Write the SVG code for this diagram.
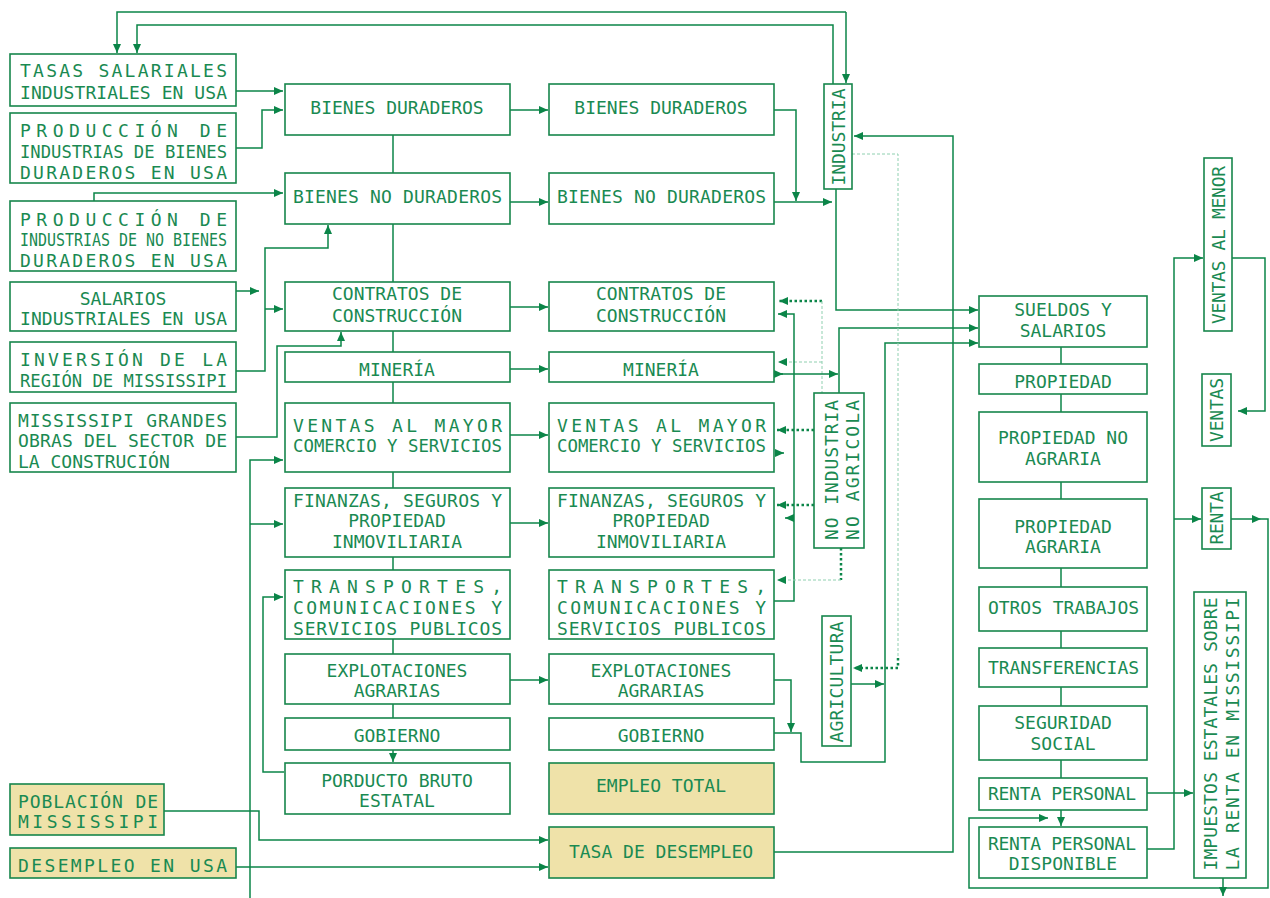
<svg xmlns="http://www.w3.org/2000/svg" width="1270" height="898" viewBox="0 0 1270 898">
<defs>
<style>
.b{fill:#fff;stroke:#17864c;stroke-width:1.6}
.y{fill:#efe2a9;stroke:#17864c;stroke-width:1.6}
text{font-family:"DejaVu Sans Mono","Liberation Mono",monospace;font-size:18px;fill:#1a8a52}
.c{text-anchor:middle}
.m{text-anchor:middle}
.ln{fill:none;stroke:#0b8548;stroke-width:1.5}
.dt{fill:none;stroke:#0b8548;stroke-width:2.5;stroke-dasharray:2.5,2.5}
.ds{fill:none;stroke:#8fd0b0;stroke-width:1;stroke-dasharray:3,2}
</style>
<marker id="a" markerUnits="userSpaceOnUse" markerWidth="10" markerHeight="8" refX="9" refY="4" orient="auto"><path d="M0,0 L9,4 L0,8 z" fill="#0b8548"/></marker>
</defs>
<rect width="1270" height="898" fill="#fff"/>
<g id="connectors">
<path class="ln" d="M833,84 V25 H137 V53" marker-end="url(#a)"/>
<path class="ln" d="M846,12 H117 V53" marker-end="url(#a)"/>
<path class="ln" d="M846,12 V83" marker-end="url(#a)"/>
<path class="ln" d="M236,91 H283" marker-end="url(#a)"/>
<path class="ln" d="M236,148 H262 V110 H283" marker-end="url(#a)"/>
<path class="ln" d="M94,201 V193 H283" marker-end="url(#a)"/>
<path class="ln" d="M236,291 H259" marker-end="url(#a)"/>
<path class="ln" d="M236,371 H265 V248 H328 V225" marker-end="url(#a)"/>
<path class="ln" d="M265,309 H283" marker-end="url(#a)"/>
<path class="ln" d="M236,437 H277 V346 H341 V332" marker-end="url(#a)"/>
<path class="ln" d="M250,898 V460 H283" marker-end="url(#a)"/>
<path class="ln" d="M250,524 H283" marker-end="url(#a)"/>
<path class="ln" d="M284,772 H263 V597 H283" marker-end="url(#a)"/>
<path class="ln" d="M164,811 H259 V840 H548" marker-end="url(#a)"/>
<path class="ln" d="M236,867 H548" marker-end="url(#a)"/>
<path class="ln" d="M393,135 V762" marker-end="url(#a)"/>
<path class="ln" d="M510,110 H548" marker-end="url(#a)"/>
<path class="ln" d="M510,202 H548" marker-end="url(#a)"/>
<path class="ln" d="M510,307 H548" marker-end="url(#a)"/>
<path class="ln" d="M510,369 H548" marker-end="url(#a)"/>
<path class="ln" d="M510,435 H548" marker-end="url(#a)"/>
<path class="ln" d="M510,523 H548" marker-end="url(#a)"/>
<path class="ln" d="M510,680 H548" marker-end="url(#a)"/>
<path class="ln" d="M774,110 H796 V201" marker-end="url(#a)"/>
<path class="ln" d="M774,202 H832" marker-end="url(#a)"/>
<path class="ln" d="M836,189 V310 H978" marker-end="url(#a)"/>
<path class="ln" d="M839,393 V328 H978" marker-end="url(#a)"/>
<path class="ln" d="M774,733 H801 V762 H885 V343 H978" marker-end="url(#a)"/>
<path class="ln" d="M851,684 H884" marker-end="url(#a)"/>
<path class="ln" d="M774,680 H791 V732" marker-end="url(#a)"/>
<path class="ln" d="M774,852 H953 V136 H854" marker-end="url(#a)"/>
<path class="ds" d="M852,154 H898 V658"/>
<path class="dt" d="M898,658 V668 H853" marker-end="url(#a)"/>
<path class="dt" d="M822,301 H779" marker-end="url(#a)"/>
<path class="ds" d="M822,301 V393"/>
<path class="ds" d="M822,362 H778" marker-end="url(#a)"/>
<path class="ln" d="M774,374 H838" marker-end="url(#a)"/>
<path class="ln" d="M774,374 H783" marker-end="url(#a)"/>
<path class="ln" d="M774,601 H794 V314 H778" marker-end="url(#a)"/>
<path class="dt" d="M814,430 H777" marker-end="url(#a)"/>
<path class="ln" d="M775,453 H784" marker-end="url(#a)"/>
<path class="dt" d="M814,505 H777" marker-end="url(#a)"/>
<path class="ln" d="M794,518 H785" marker-end="url(#a)"/>
<path class="dt" d="M841,548 V580"/>
<path class="ds" d="M841,580 H777" marker-end="url(#a)"/>
<path class="ln" d="M1061,347 V826" marker-end="url(#a)"/>
<path class="ln" d="M1147,793 H1193" marker-end="url(#a)"/>
<path class="ln" d="M1147,849 H1174 V258 H1203" marker-end="url(#a)"/>
<path class="ln" d="M1174,519 H1201" marker-end="url(#a)"/>
<path class="ln" d="M1232,258 H1265 V411 H1238" marker-end="url(#a)"/>
<path class="ln" d="M1231,519 H1261" marker-end="url(#a)"/>
<path class="ln" d="M1261,519 H1268 V888 H969 V818 H1048" marker-end="url(#a)"/>
<path class="ln" d="M1223,878 V896" marker-end="url(#a)"/>
</g>
<g id="n-tasas"><rect class="b" x="10" y="54" width="226" height="52"/><text x="20" y="77" textLength="207">TASAS SALARIALES</text><text x="20" y="99" textLength="207">INDUSTRIALES EN USA</text></g>
<g id="n-prod-dur"><rect class="b" x="10" y="113" width="226" height="70"/><text x="20" y="137" textLength="207">PRODUCCIÓN DE</text><text x="20" y="158" textLength="207" lengthAdjust="spacingAndGlyphs">INDUSTRIAS DE BIENES</text><text x="20" y="179" textLength="207">DURADEROS EN USA</text></g>
<g id="n-prod-nodur"><rect class="b" x="10" y="201" width="226" height="70"/><text x="20" y="226" textLength="207">PRODUCCIÓN DE</text><text x="20" y="246" textLength="207" lengthAdjust="spacingAndGlyphs">INDUSTRIAS DE NO BIENES</text><text x="20" y="267" textLength="207">DURADEROS EN USA</text></g>
<g id="n-salarios"><rect class="b" x="10" y="282" width="226" height="49"/><text class="c" x="123" y="305">SALARIOS</text><text x="20" y="325" textLength="207">INDUSTRIALES EN USA</text></g>
<g id="n-inversion"><rect class="b" x="10" y="342" width="226" height="50"/><text x="20" y="366" textLength="207">INVERSIÓN DE LA</text><text x="20" y="387" textLength="207" lengthAdjust="spacingAndGlyphs">REGIÓN DE MISSISSIPI</text></g>
<g id="n-obras"><rect class="b" x="10" y="403" width="226" height="69"/><text x="18" y="427" textLength="209">MISSISSIPI GRANDES</text><text x="18" y="447" textLength="209">OBRAS DEL SECTOR DE</text><text x="18" y="468">LA CONSTRUCIÓN</text></g>
<g id="n-poblacion"><rect class="y" x="10" y="784" width="154" height="51"/><text x="18" y="808" textLength="140">POBLACIÓN DE</text><text x="18" y="828" textLength="140">MISSISSIPI</text></g>
<g id="n-desempleo-usa"><rect class="y" x="10" y="848" width="226" height="30"/><text x="18" y="872" textLength="209">DESEMPLEO EN USA</text></g>
<g id="n-a-bd"><rect class="b" x="285" y="84" width="225" height="51"/><text class="c" x="397" y="114">BIENES DURADEROS</text></g>
<g id="n-a-bnd"><rect class="b" x="285" y="173" width="225" height="51"/><text x="293" y="203" textLength="209">BIENES NO DURADEROS</text></g>
<g id="n-a-con"><rect class="b" x="285" y="282" width="225" height="49"/><text class="c" x="397" y="300">CONTRATOS DE</text><text class="c" x="397" y="322">CONSTRUCCIÓN</text></g>
<g id="n-a-min"><rect class="b" x="285" y="352" width="225" height="30"/><text class="c" x="397" y="376">MINERÍA</text></g>
<g id="n-a-ven"><rect class="b" x="285" y="403" width="225" height="69"/><text x="293" y="432" textLength="209">VENTAS AL MAYOR</text><text x="293" y="452" textLength="209" lengthAdjust="spacingAndGlyphs">COMERCIO Y SERVICIOS</text></g>
<g id="n-a-fin"><rect class="b" x="285" y="488" width="225" height="69"/><text x="293" y="507" textLength="209">FINANZAS, SEGUROS Y</text><text class="c" x="397" y="527">PROPIEDAD</text><text class="c" x="397" y="548">INMOVILIARIA</text></g>
<g id="n-a-tra"><rect class="b" x="285" y="570" width="225" height="69"/><text x="293" y="593" textLength="209">TRANSPORTES,</text><text x="293" y="614" textLength="209">COMUNICACIONES Y</text><text x="293" y="635" textLength="209">SERVICIOS PUBLICOS</text></g>
<g id="n-a-exp"><rect class="b" x="285" y="654" width="225" height="50"/><text class="c" x="397" y="677">EXPLOTACIONES</text><text class="c" x="397" y="697">AGRARIAS</text></g>
<g id="n-a-gob"><rect class="b" x="285" y="718" width="225" height="32"/><text class="c" x="397" y="742">GOBIERNO</text></g>
<g id="n-pbe"><rect class="b" x="285" y="763" width="225" height="51"/><text class="c" x="397" y="787">PORDUCTO BRUTO</text><text class="c" x="397" y="807">ESTATAL</text></g>
<g id="n-b-bd"><rect class="b" x="549" y="84" width="225" height="51"/><text class="c" x="661" y="114">BIENES DURADEROS</text></g>
<g id="n-b-bnd"><rect class="b" x="549" y="173" width="225" height="51"/><text x="557" y="203" textLength="209">BIENES NO DURADEROS</text></g>
<g id="n-b-con"><rect class="b" x="549" y="282" width="225" height="49"/><text class="c" x="661" y="300">CONTRATOS DE</text><text class="c" x="661" y="322">CONSTRUCCIÓN</text></g>
<g id="n-b-min"><rect class="b" x="549" y="352" width="225" height="30"/><text class="c" x="661" y="376">MINERÍA</text></g>
<g id="n-b-ven"><rect class="b" x="549" y="403" width="225" height="69"/><text x="557" y="432" textLength="209">VENTAS AL MAYOR</text><text x="557" y="452" textLength="209" lengthAdjust="spacingAndGlyphs">COMERCIO Y SERVICIOS</text></g>
<g id="n-b-fin"><rect class="b" x="549" y="488" width="225" height="69"/><text x="557" y="507" textLength="209">FINANZAS, SEGUROS Y</text><text class="c" x="661" y="527">PROPIEDAD</text><text class="c" x="661" y="548">INMOVILIARIA</text></g>
<g id="n-b-tra"><rect class="b" x="549" y="570" width="225" height="69"/><text x="557" y="593" textLength="209">TRANSPORTES,</text><text x="557" y="614" textLength="209">COMUNICACIONES Y</text><text x="557" y="635" textLength="209">SERVICIOS PUBLICOS</text></g>
<g id="n-b-exp"><rect class="b" x="549" y="654" width="225" height="50"/><text class="c" x="661" y="677">EXPLOTACIONES</text><text class="c" x="661" y="697">AGRARIAS</text></g>
<g id="n-b-gob"><rect class="b" x="549" y="718" width="225" height="32"/><text class="c" x="661" y="742">GOBIERNO</text></g>
<g id="n-empleo"><rect class="y" x="549" y="763" width="225" height="51"/><text class="c" x="661" y="792">EMPLEO TOTAL</text></g>
<g id="n-tasa-des"><rect class="y" x="549" y="827" width="225" height="51"/><text class="c" x="661" y="858">TASA DE DESEMPLEO</text></g>
<g id="n-industria"><rect class="b" x="824" y="84" width="28" height="105"/><text class="c" transform="translate(845,137) rotate(-90)" textLength="97">INDUSTRIA</text></g>
<g id="n-noind"><rect class="b" x="814" y="393" width="50" height="155"/><text class="c" transform="translate(838,470) rotate(-90)" textLength="140">NO INDUSTRIA</text><text class="c" transform="translate(859,470) rotate(-90)" textLength="140">NO AGRICOLA</text></g>
<g id="n-agri"><rect class="b" x="822" y="616" width="29" height="130"/><text class="c" transform="translate(843,682) rotate(-90)" textLength="121">AGRICULTURA</text></g>
<g id="n-sueldos"><rect class="b" x="979" y="296" width="168" height="51"/><text class="c" x="1063" y="316">SUELDOS Y</text><text class="c" x="1063" y="337">SALARIOS</text></g>
<g id="n-propiedad"><rect class="b" x="979" y="364" width="168" height="30"/><text class="c" x="1063" y="388">PROPIEDAD</text></g>
<g id="n-prop-noagr"><rect class="b" x="979" y="412" width="168" height="70"/><text class="c" x="1063" y="444">PROPIEDAD NO</text><text class="c" x="1063" y="465">AGRARIA</text></g>
<g id="n-prop-agr"><rect class="b" x="979" y="499" width="168" height="69"/><text class="c" x="1063" y="533">PROPIEDAD</text><text class="c" x="1063" y="553">AGRARIA</text></g>
<g id="n-otros"><rect class="b" x="979" y="587" width="168" height="44"/><text x="988" y="614" textLength="151">OTROS TRABAJOS</text></g>
<g id="n-transf"><rect class="b" x="979" y="648" width="168" height="39"/><text x="988" y="674" textLength="151">TRANSFERENCIAS</text></g>
<g id="n-seguridad"><rect class="b" x="979" y="706" width="168" height="54"/><text class="c" x="1063" y="729">SEGURIDAD</text><text class="c" x="1063" y="750">SOCIAL</text></g>
<g id="n-renta-per"><rect class="b" x="979" y="778" width="168" height="32"/><text x="988" y="800" textLength="148">RENTA PERSONAL</text></g>
<g id="n-renta-disp"><rect class="b" x="979" y="827" width="168" height="51"/><text x="988" y="850" textLength="148">RENTA PERSONAL</text><text class="c" x="1063" y="870">DISPONIBLE</text></g>
<g id="n-ventas-menor"><rect class="b" x="1204" y="158" width="28" height="173"/><text class="c" transform="translate(1225,245) rotate(-90)" textLength="158">VENTAS AL MENOR</text></g>
<g id="n-ventas"><rect class="b" x="1202" y="374" width="29" height="72"/><text class="c" transform="translate(1223,410) rotate(-90)" textLength="64">VENTAS</text></g>
<g id="n-renta"><rect class="b" x="1202" y="488" width="29" height="61"/><text class="c" transform="translate(1223,518) rotate(-90)" textLength="53">RENTA</text></g>
<g id="n-impuestos"><rect class="b" x="1194" y="592" width="52" height="286"/><text class="c" transform="translate(1217,734) rotate(-90)" textLength="273">IMPUESTOS ESTATALES SOBRE</text><text class="c" transform="translate(1239,734) rotate(-90)" textLength="273">LA RENTA EN MISSISSIPI</text></g>
</svg>
